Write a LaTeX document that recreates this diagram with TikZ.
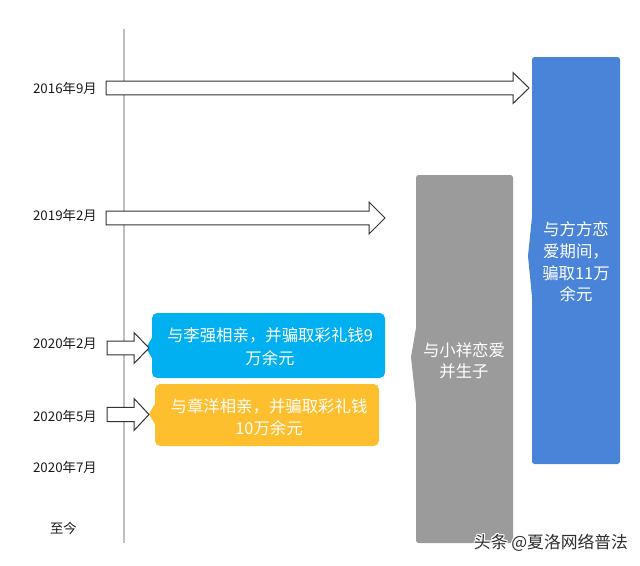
\documentclass[tikz,border=0pt]{standalone}
\usepackage{fontspec}
\setmainfont{Noto Sans CJK SC}
\usetikzlibrary{calc}
\definecolor{axisgray}{HTML}{BFBFBF}
\definecolor{calloutblue}{HTML}{00B0F0}
\definecolor{calloutorange}{HTML}{FDBF2D}
\definecolor{barblue}{HTML}{4A84D9}
\definecolor{bargray}{HTML}{9B9B9B}
\definecolor{labelblack}{HTML}{1A1A1A}
\definecolor{wmark}{HTML}{2E2E2E}
\tikzset{
  datelabel/.style={anchor=east, inner sep=0pt, text=labelblack, font=\fontsize{10}{12}\selectfont},
  boxtext/.style={inner sep=0pt, text=white, align=center},
  blockarrowstyle/.style={draw=black!80, fill=white, line width=0.75pt, line join=miter},
  calloutshape/.style={rounded corners=4},
}
% block arrow: #1 start coord, #2 tip coord, #3 shaft half, #4 head half, #5 head length
\newcommand{\tlblockarrow}[5]{%
  \draw[blockarrowstyle]
    ($(#1)+(0,-#3)$) -- ($(#2)+(-#5,-#3)$) -- ($(#2)+(-#5,-#4)$) -- (#2)
    -- ($(#2)+(-#5,#4)$) -- ($(#2)+(-#5,#3)$) -- ($(#1)+(0,#3)$) -- cycle;}
\begin{document}
\begin{tikzpicture}[x=0.75pt, y=-0.75pt]
\useasboundingbox (0,0) rectangle (640,565);
\fill[white] (0,0) rectangle (640,565);

% axis line
\coordinate (axtop) at (124,29);
\coordinate (axbot) at (124,543);
\draw[axisgray, line width=1.5pt] (axtop) -- (axbot);

% date labels
\node[datelabel] (d1) at (97,88) {2016年9月};
\node[datelabel] (d2) at (97,215) {2019年2月};
\node[datelabel] (d3) at (97,343) {2020年2月};
\node[datelabel] (d4) at (97,416) {2020年5月};
\node[datelabel] (d5) at (97,467) {2020年7月};
\node[datelabel] (d6) at (77,528) {至今};

% big blue bar (方方)
\fill[barblue, rounded corners=2] (532,57) rectangle (620,464);
\fill[barblue] (532.5,212) -- (528,256) -- (532.5,302) -- cycle;
\node[boxtext, font=\fontsize{12.3}{16.2}\selectfont] (fang) at (576,262)
  {与方方恋\\爱期间，\\骗取11万\\余元};

% gray bar (小祥)
\fill[bargray, rounded corners=2] (416,175) rectangle (513,543);
\fill[bargray] (416.5,325) -- (411,357) -- (416.5,408) -- cycle;
\node[boxtext, font=\fontsize{12.3}{15.8}\selectfont] (xiang) at (464,360.5)
  {与小祥恋爱\\并生子};

% blue callout (李强)
\fill[calloutblue, calloutshape] (152,313) rectangle (385,378);
\fill[calloutblue] (153,336) -- (146,348) -- (153,360) -- cycle;
\node[boxtext, font=\fontsize{12.3}{17.2}\selectfont] (li) at (270,346.5)
  {与李强相亲，并骗取彩礼钱9\\万余元};

% orange callout (章洋)
\fill[calloutorange, calloutshape] (155,384) rectangle (379,446);
\fill[calloutorange] (156,402) -- (149,414) -- (156,426) -- cycle;
\node[boxtext, font=\fontsize{12.3}{16.5}\selectfont] (zhang) at (269,417)
  {与章洋相亲，并骗取彩礼钱\\10万余元};

% arrows
\coordinate (a1s) at (106,88);  \coordinate (a1e) at (529,88);
\coordinate (a2s) at (106,218); \coordinate (a2e) at (385,218);
\coordinate (a3s) at (107,348); \coordinate (a3e) at (149,348);
\coordinate (a4s) at (107,414.5); \coordinate (a4e) at (149,414.5);
\tlblockarrow{a1s}{a1e}{6.8}{15.5}{16}
\tlblockarrow{a2s}{a2e}{6.8}{16}{16}
\tlblockarrow{a3s}{a3e}{6.8}{15.5}{15}
\tlblockarrow{a4s}{a4e}{7.2}{16}{15}

% watermark
\foreach \dx/\dy in {-1/0,1/0,0/-1,0/1,-0.8/-0.8,0.8/0.8,-0.8/0.8,0.8/-0.8}{
  \node[inner sep=0pt, text=white, font=\fontsize{12.6}{14}\selectfont] at (551+\dx,543+\dy) {头条 @夏洛网络普法};
}
\node[inner sep=0pt, text=wmark, font=\fontsize{12.6}{14}\selectfont] (wm) at (551,543) {头条 @夏洛网络普法};
\end{tikzpicture}
\end{document}
